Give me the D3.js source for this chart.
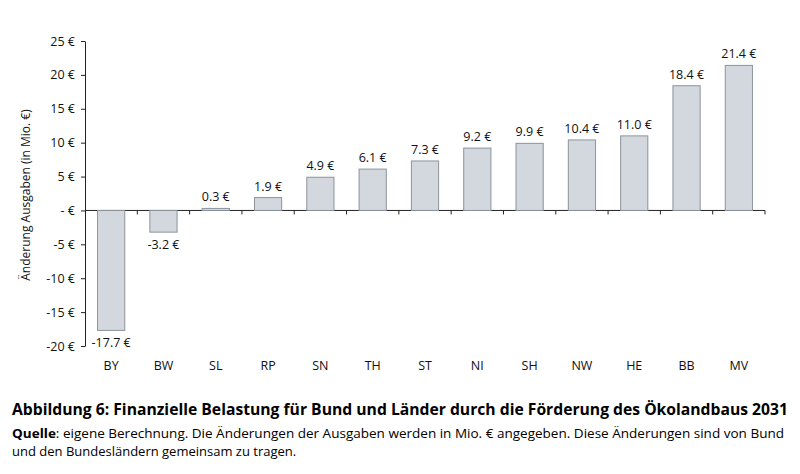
<!DOCTYPE html>
<html><head><meta charset="utf-8">
<script src="https://cdn.jsdelivr.net/npm/d3@7"></script>
<style>body{margin:0;background:#fff;font-family:Calibri,Carlito,"Open Sans",sans-serif}</style>
</head><body><svg id="c" width="800" height="474"></svg>
<script>
const categories=["BY","BW","SL","RP","SN","TH","ST","NI","SH","NW","HE","BB","MV"];
const values=[-17.7,-3.2,0.3,1.9,4.9,6.1,7.3,9.2,9.9,10.4,11.0,18.4,21.4];
const yTicks=[-20,-15,-10,-5,0,5,10,15,20,25];
const svg=d3.select("#c");
const font='"Open Sans",sans-serif';
const x=d3.scaleBand().domain(categories).range([85,765]).paddingInner(0.48).paddingOuter(0.24);
const y=d3.scaleLinear().domain([-20,25]).range([346,41]);
const fmt=v=>v===0?"-   €":d3.format(".0f")(v).replace("−","-")+" €";
const ya=svg.append("g").attr("transform","translate(85,0)").call(d3.axisLeft(y).tickValues(yTicks).tickFormat(fmt).tickSize(4).tickSizeOuter(0));
ya.selectAll("text").attr("font-family",font).attr("font-size",12.5).attr("fill","#111").attr("x",-10);
ya.selectAll("line,path").attr("stroke","#222");
const xa=svg.append("g").attr("transform",`translate(0,${y(0)})`);
xa.append("line").attr("x1",85).attr("x2",765).attr("stroke","#222");
const step=x.step();
categories.forEach((c,i)=>{const xx=85+(i+1)*step;xa.append("line").attr("x1",xx).attr("x2",xx).attr("y1",0).attr("y2",4).attr("stroke","#222");});
svg.append("g").selectAll("rect").data(values).join("rect")
 .attr("x",(d,i)=>x(categories[i])).attr("width",x.bandwidth())
 .attr("y",d=>y(Math.max(0,d))).attr("height",d=>Math.abs(y(d)-y(0)))
 .attr("fill","#d3d8df").attr("stroke","#8c939c");
svg.append("g").selectAll("text").data(values).join("text")
 .attr("x",(d,i)=>x(categories[i])+x.bandwidth()/2)
 .attr("y",d=>d>=0?y(d)-7:y(d)+17)
 .attr("text-anchor","middle").attr("font-family",font).attr("font-size",12.5).attr("fill","#111")
 .text(d=>d.toFixed(1)+" €");
svg.append("g").selectAll("text").data(categories).join("text")
 .attr("x",c=>x(c)+x.bandwidth()/2).attr("y",370).attr("text-anchor","middle")
 .attr("font-family",font).attr("font-size",12.5).attr("fill","#111").text(c=>c);
svg.append("text").attr("transform","translate(30,195) rotate(-90)").attr("text-anchor","middle")
 .attr("font-family",font).attr("font-size",12).attr("fill","#111").text("Änderung Ausgaben (in Mio. €)");
svg.append("text").attr("x",12).attr("y",415).attr("font-family",font).attr("font-size",15.3).attr("font-weight","bold").attr("fill","#000")
 .attr("textLength",776).attr("lengthAdjust","spacingAndGlyphs")
 .text("Abbildung 6: Finanzielle Belastung für Bund und Länder durch die Förderung des Ökolandbaus 2031");
const s=svg.append("text").attr("x",12).attr("y",438).attr("font-family",font).attr("font-size",13).attr("fill","#000")
 .attr("textLength",772).attr("lengthAdjust","spacingAndGlyphs");
s.append("tspan").attr("font-weight","bold").text("Quelle");
s.append("tspan").text(": eigene Berechnung. Die Änderungen der Ausgaben werden in Mio. € angegeben. Diese Änderungen sind von Bund");
svg.append("text").attr("x",12).attr("y",456).attr("font-family",font).attr("font-size",13).attr("fill","#000")
 .text("und den Bundesländern gemeinsam zu tragen.");
</script></body></html>
